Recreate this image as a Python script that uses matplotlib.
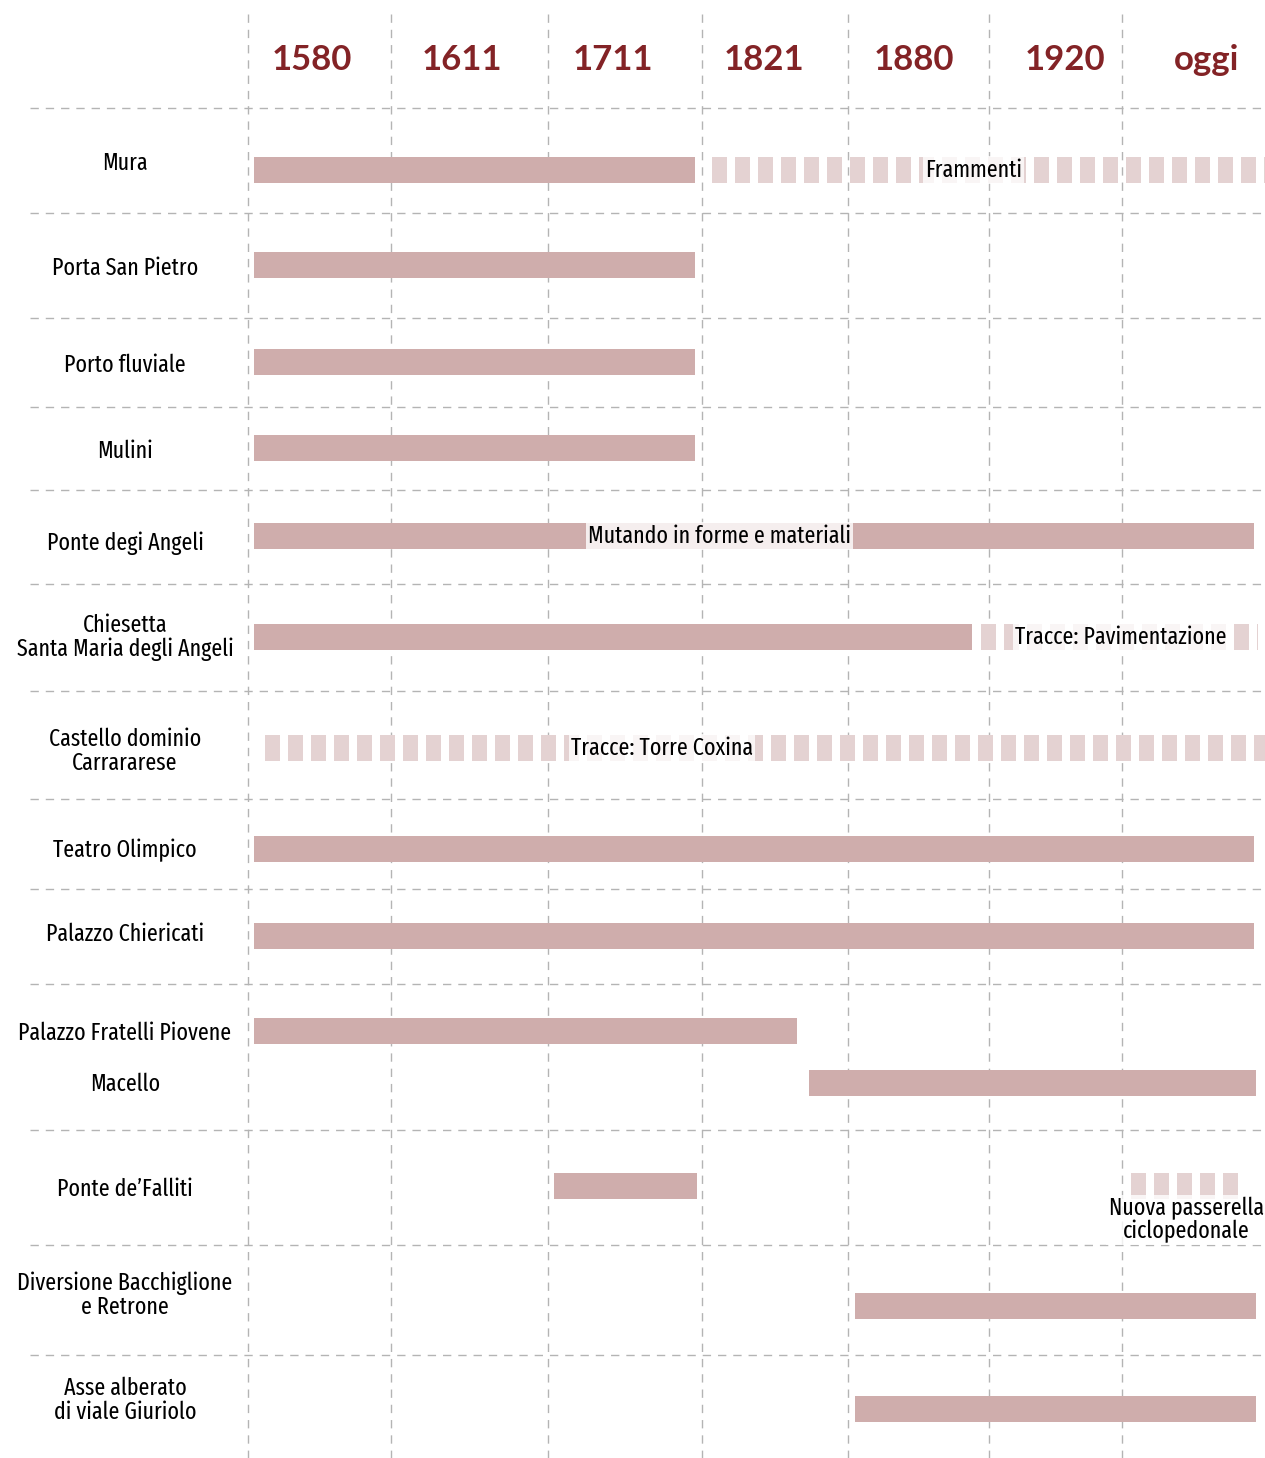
import numpy as np
import matplotlib
matplotlib.use("Agg")
import matplotlib.pyplot as plt
from matplotlib import font_manager
from matplotlib.font_manager import FontProperties

# ---- data -------------------------------------------------------------
years = ["1580", "1611", "1711", "1821", "1880", "1920", "oggi"]

row_labels = ["Mura", "Porta San Pietro", "Porto fluviale", "Mulini",
              "Ponte degi Angeli", "Chiesetta\nSanta Maria degli Angeli",
              "Castello dominio\nCarrararese", "Teatro Olimpico",
              "Palazzo Chiericati", "Palazzo Fratelli Piovene", "Macello",
              "Ponte de\u2019Falliti", "Diversione Bacchiglione\ne Retrone",
              "Asse alberato\ndi viale Giuriolo"]

# bars in column units (0 = 1580 column start, 7 = right edge)
solid_bars = [  # (row, start, end)
    (0, 0.04, 2.955), (1, 0.04, 2.955), (2, 0.04, 2.955), (3, 0.04, 2.955),
    (4, 0.04, 6.92), (5, 0.04, 4.88), (7, 0.04, 6.92), (8, 0.04, 6.92),
    (9, 0.04, 3.65), (10, 3.73, 6.94), (11, 2.04, 2.97),
    (12, 4.05, 6.94), (13, 4.05, 6.94),
]
dashed_bars = [
    (0, 3.07, 7.0), (5, 4.94, 6.95), (6, 0.12, 7.0), (11, 6.06, 6.83),
]
notes = [  # (row, x, text)
    (0, 4.89, "Frammenti"),
    (4, 3.12, "Mutando in forme e materiali"),
    (5, 5.99, "Tracce: Pavimentazione"),
    (6, 2.74, "Tracce: Torre Coxina"),
    (11, 6.45, "Nuova passerella\nciclopedonale"),
]

# ---- layout (pixels) --------------------------------------------------
W, H = 1265, 1458
col_px = [248, 391, 548, 702, 848, 989, 1122, 1265]
year_px = [312, 462, 613, 764, 914, 1065, 1207]
bar_y = [170, 265, 362, 448, 536, 637, 748, 849, 936, 1031, 1083, 1186, 1306, 1409]
label_y = [163, 268, 365, 451, 543, 637, 751, 850, 934, 1033, 1084, 1189, 1295, 1400]
note_dy = {11: 34}
hlines_y = [108, 213, 318, 407, 490, 584, 691, 799, 889, 984, 1130, 1245, 1355]


# look for a narrow sans face, the narrower the better
def rank(f):
    fn = f.fname.lower().replace("-", "").replace("_", "")
    if f.style != "normal" or f.weight not in (400, "normal", "regular"):
        return None
    if "mono" in fn or "serif" in fn.replace("sans", ""):
        return None
    if "extracondensed" in fn or f.stretch == "extra-condensed":
        return 0
    if "narrow" in fn:
        return 1
    if "semicondensed" in fn or f.stretch == "semi-condensed":
        return 3
    if "condensed" in fn or f.stretch == "condensed":
        return 2
    return None


cands = [(rank(f), f.fname) for f in font_manager.fontManager.ttflist]
cands = sorted(c for c in cands if c[0] is not None)
if cands and cands[0][0] == 0:
    fsize = 17.2
elif cands and cands[0][0] in (1, 2):
    fsize = 14.5
elif cands:
    fsize = 13.5
if cands:
    label_font = dict(fontproperties=FontProperties(fname=cands[0][1], size=fsize))
else:
    label_font = dict(family="DejaVu Sans", fontsize=12)

plt.rcParams["lines.scale_dashes"] = False

solid_c = "#cfadac"
dash_c = "#e4d2d2"
grid_c = "#b4b4b4"
year_c = "#832326"
px2pt = 72 / 100

fig = plt.figure(figsize=(W / 100, H / 100), dpi=100)
bg = fig.add_axes([0, 0, 1, 1])
bg.set_xlim(0, W)
bg.set_ylim(H, 0)
bg.axis("off")

for y in hlines_y:
    bg.plot([30, W], [y, y], color=grid_c, lw=1, ls=(0, (6, 5)))

for x, t in zip(year_px, years):
    bg.text(x, 60, t, ha="center", va="center", fontsize=25,
            fontweight="bold", color=year_c, family="Lato")

for y, t in zip(label_y, row_labels):
    bg.text(125, y, t, ha="center", va="center", linespacing=1.05, **label_font)

# main timeline axes, x in column units
ax = fig.add_axes([col_px[0] / W, 0, (W - col_px[0]) / W, 1])
idx = np.arange(len(col_px))
ax.set_xscale("function", functions=(lambda v: np.interp(v, idx, col_px),
                                     lambda p: np.interp(p, col_px, idx)))
ax.set_xlim(0, 7)
ax.set_ylim(H, 0)
ax.axis("off")

for i in range(7):
    ax.plot([i, i], [14, H], color=grid_c, lw=1, ls=(0, (6, 5)), clip_on=False)

for r, s, e in solid_bars:
    ax.barh(bar_y[r], e - s, left=s, height=26, color=solid_c, zorder=2)

for r, s, e in dashed_bars:
    ax.hlines(bar_y[r], s, e, color=dash_c, lw=26 * px2pt,
              linestyles=(0, (15 * px2pt, 8 * px2pt)), capstyle="butt", zorder=2)

for r, x, t in notes:
    ax.text(x, bar_y[r] + note_dy.get(r, 0), t, ha="center", va="center",
            linespacing=0.95, zorder=4,
            bbox=dict(boxstyle="square,pad=0.1", fc="white", ec="none", alpha=0.8),
            **label_font)

fig.savefig("out.png", dpi=100)
